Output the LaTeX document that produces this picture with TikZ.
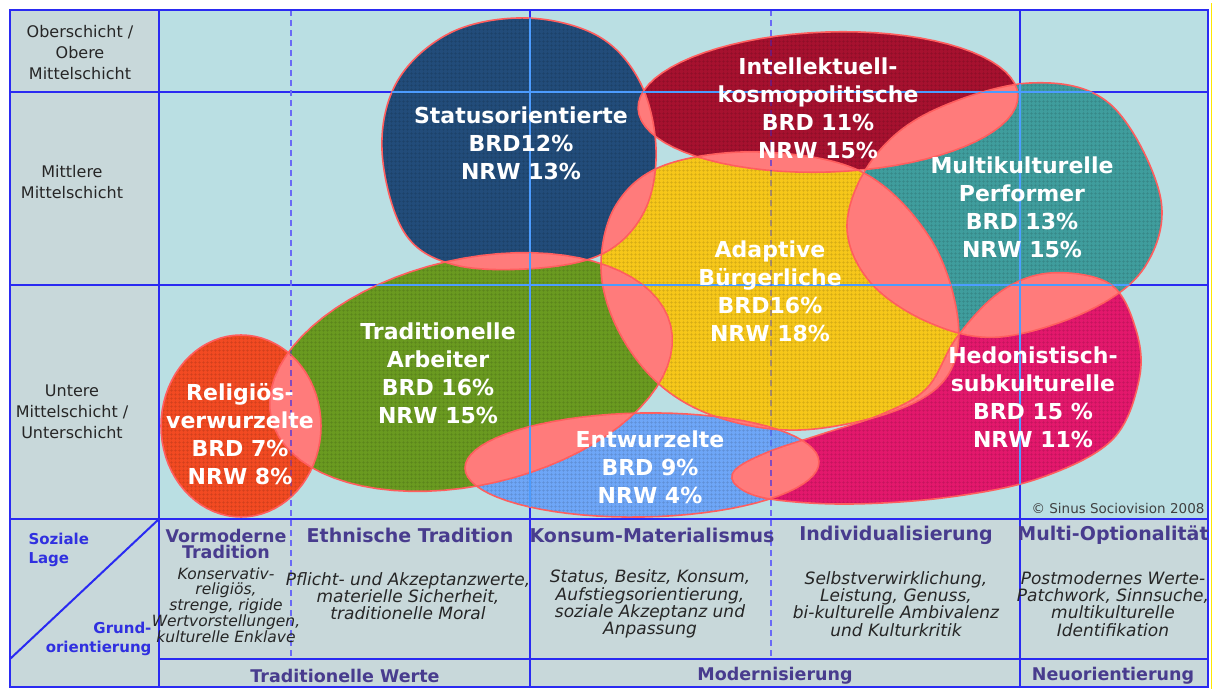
\documentclass[tikz,border=0pt]{standalone}
\usepackage{fontspec}
\setmainfont{DejaVu Sans}
\usetikzlibrary{patterns.meta}

\definecolor{feldgrund}{HTML}{BADFE3}
\definecolor{randgrund}{HTML}{C8D8DA}
\definecolor{linie}{HTML}{2A2AF2}
\definecolor{linieoben}{HTML}{4C9CFF}
\definecolor{schnitt}{HTML}{FF7B7B}
\definecolor{kontur}{HTML}{FF5E5E}
\definecolor{kopfschrift}{HTML}{483C8E}
\definecolor{lageblau}{HTML}{3030E0}
\definecolor{status}{HTML}{224C7A}
\definecolor{intellekt}{HTML}{A6112F}
\definecolor{multi}{HTML}{3F9D9D}
\definecolor{adaptiv}{HTML}{F6C71A}
\definecolor{arbeiter}{HTML}{6A9A20}
\definecolor{religio}{HTML}{F24A22}
\definecolor{entwurzelt}{HTML}{6EA6F7}
\definecolor{hedon}{HTML}{E3186C}

\tikzstyle{milieu}=[text=white,font=\bfseries\fontsize{22}{28}\selectfont,align=center]
\tikzstyle{schicht}=[text=black!85,font=\fontsize{16}{21}\selectfont,align=center]
\tikzstyle{lage}=[text=lageblau,font=\bfseries\fontsize{15}{19}\selectfont]
\tikzstyle{kopf}=[text=kopfschrift,font=\bfseries\fontsize{19}{17}\selectfont,align=center]
\tikzstyle{werte}=[text=black!85,font=\itshape\fontsize{17}{17.3}\selectfont,align=center]
\tikzstyle{fuss}=[text=kopfschrift,font=\bfseries\fontsize{17.5}{18}\selectfont]
\tikzstyle{gitter}=[draw=linie,line width=2pt]
\tikzstyle{gestrichelt}=[draw=linie!70,line width=2pt,dash pattern=on 6pt off 4pt]
\tikzstyle{gitterhell}=[draw=linieoben,line width=2pt]
\tikzstyle{gestricheltblass}=[draw=linie,line width=1.5pt,dash pattern=on 6pt off 4pt,draw opacity=.35]
\tikzstyle{kontur}=[draw=kontur,line width=1.6pt]

\newcommand{\ellipsenform}[5]{plot[domain=0:360,samples=73,variable=\t]
  ({#1+#3*cos(\t)*cos(#5)-#4*sin(\t)*sin(#5)},{#2+#3*cos(\t)*sin(#5)+#4*sin(\t)*cos(#5)}) -- cycle}
\def\formStatus{plot[smooth cycle,tension=.6] coordinates {(527,18) (598,36) (640,82) (656,148) (645,210) (606,252) (540,268) (455,265) (404,232) (382,150) (398,80) (452,32)}}
\def\formIntellekt{\ellipsenform{828}{102}{190}{70}{-2}}
\def\formMulti{plot[smooth cycle,tension=.6] coordinates {(872,160) (930,112) (1030,83) (1110,104) (1160,195) (1146,265) (1090,310) (1000,337) (930,323) (870,282) (847,225)}}
\def\formAdaptiv{plot[smooth cycle,tension=.6] coordinates {(760,152) (862,172) (930,238) (958,320) (946,378) (892,412) (800,430) (720,418) (660,385) (618,330) (601,268) (616,205) (665,165)}}
\def\formArbeiter{\ellipsenform{471}{372}{205}{113}{-13}}
\def\formReligio{\ellipsenform{241}{426}{80}{91}{0}}
\def\formEntwurzelt{\ellipsenform{642}{465}{177}{52}{-1}}
\def\formHedon{plot[smooth cycle,tension=.6] coordinates {(957,337) (1000,292) (1050,273) (1110,284) (1136,330) (1139,380) (1112,440) (1040,478) (950,497) (850,504) (770,499) (737,486) (735,470) (768,452) (822,434) (882,414) (927,388)}}

\begin{document}
\begin{tikzpicture}[x=1pt,y=-1pt]
  \useasboundingbox (0,0) rectangle (1213,689);
  \fill[randgrund] (10,10) rectangle (159,519);
  \fill[feldgrund] (159,10) rectangle (1208,519);
  \fill[randgrund] (10,519) rectangle (1208,687);

  \foreach \y in {92,285,519}
    \draw[gitter] (10,\y) -- (1208,\y);
  \draw[gitter] (159,659) -- (1208,659);
  \foreach \x in {159,530,1020}
    \draw[gitter] (\x,10) -- (\x,687);
  \foreach \x in {291,771}
    \draw[gestrichelt] (\x,10) -- (\x,659);
  \draw[gitter] (10,659) -- (159,519);
  \draw[gitter] (10,10) rectangle (1208,687);
  \draw[yellow!90!orange,line width=1.5pt] (1211.5,3) -- (1211.5,689);

  \foreach \form/\farbe in {\formStatus/status,\formIntellekt/intellekt,\formMulti/multi,
      \formAdaptiv/adaptiv,\formArbeiter/arbeiter,\formReligio/religio,
      \formEntwurzelt/entwurzelt,\formHedon/hedon}{
    \fill[fill=\farbe] \form;
    \fill[pattern={Hatch[distance=4pt,angle=0,line width=.7pt]},pattern color=\farbe!65!black,fill opacity=.4] \form;
  }

  \foreach \a/\b in {\formStatus/\formIntellekt,\formStatus/\formAdaptiv,\formStatus/\formArbeiter,
      \formIntellekt/\formAdaptiv,\formIntellekt/\formMulti,\formMulti/\formAdaptiv,
      \formMulti/\formHedon,\formAdaptiv/\formArbeiter,\formAdaptiv/\formHedon,
      \formAdaptiv/\formEntwurzelt,\formArbeiter/\formReligio,\formArbeiter/\formEntwurzelt,
      \formEntwurzelt/\formHedon}{
    \begin{scope}
      \clip \a;
      \fill[schnitt] \b;
    \end{scope}
  }

  \foreach \form in {\formStatus,\formIntellekt,\formMulti,\formAdaptiv,
      \formArbeiter,\formReligio,\formEntwurzelt,\formHedon}{
    \draw[kontur] \form;
    \begin{scope}
      \clip \form;
      \draw[gitterhell] (530,10) -- (530,519) (1020,10) -- (1020,519)
        (159,92) -- (1208,92) (159,285) -- (1208,285);
      \draw[gestricheltblass] (291,10) -- (291,519) (771,10) -- (771,519);
    \end{scope}
  }

  \node (status)[milieu] at (521,143) {Statusorientierte\\BRD12\%\\NRW 13\%};
  \node (intellekt)[milieu] at (818,108) {Intellektuell-\\kosmopolitische\\BRD 11\%\\NRW 15\%};
  \node (multi)[milieu] at (1022,207) {Multikulturelle\\Performer\\BRD 13\%\\NRW 15\%};
  \node (adaptiv)[milieu] at (770,291) {Adaptive\\Bürgerliche\\BRD16\%\\NRW 18\%};
  \node (arbeiter)[milieu] at (438,373) {Traditionelle\\Arbeiter\\BRD 16\%\\NRW 15\%};
  \node (religio)[milieu] at (240,434) {Religiös-\\verwurzelte\\BRD 7\%\\NRW 8\%};
  \node (entwurzelt)[milieu] at (650,467) {Entwurzelte\\BRD 9\%\\NRW 4\%};
  \node (hedon)[milieu] at (1033,397) {Hedonistisch-\\subkulturelle\\BRD 15 \%\\NRW 11\%};
  \node (copy)[text=black!75,font=\fontsize{13.5}{14}\selectfont] at (1118,508) {© Sinus Sociovision 2008};

  \node (ober)[schicht] at (80,53) {Oberschicht /\\Obere\\Mittelschicht};
  \node (mitte)[schicht] at (72,182) {Mittlere\\Mittelschicht};
  \node (unten)[schicht] at (72,412) {Untere\\Mittelschicht /\\Unterschicht};

  \node (lage)[lage,anchor=west,align=left] at (25,550) {Soziale\\Lage};
  \node (grund)[lage,anchor=east,align=right] at (155,639) {Grund-\\orientierung};

  \node (k1)[kopf,font=\bfseries\fontsize{17.5}{16.5}\selectfont] at (226,544) {Vormoderne\\Tradition};
  \node (k2)[kopf] at (410,535) {Ethnische Tradition};
  \node (k3)[kopf] at (652,535) {Konsum-Materialismus};
  \node (k4)[kopf] at (896,535) {Individualisierung};
  \node (k5)[kopf] at (1113,535) {Multi-Optionalität};

  \node (w1)[werte,font=\itshape\fontsize{15.5}{14.8}\selectfont] at (226,605) {Konservativ-\\religiös,\\strenge, rigide\\Wertvorstellungen,\\kulturelle Enklave};
  \node (w2)[werte] at (408,596) {Pflicht- und Akzeptanzwerte,\\materielle Sicherheit,\\traditionelle Moral};
  \node (w3)[werte] at (650,604) {Status, Besitz, Konsum,\\Aufstiegsorientierung,\\soziale Akzeptanz und\\Anpassung};
  \node (w4)[werte] at (896,604) {Selbstverwirklichung,\\Leistung, Genuss,\\bi-kulturelle Ambivalenz\\und Kulturkritik};
  \node (w5)[werte] at (1113,604) {Postmodernes Werte-\\Patchwork, Sinnsuche,\\multikulturelle\\Identifikation};

  \node (f1)[fuss] at (345,676) {Traditionelle Werte};
  \node (f2)[fuss] at (775,676) {Modernisierung};
  \node (f3)[fuss] at (1113,676) {Neuorientierung};
\end{tikzpicture}
\end{document}
